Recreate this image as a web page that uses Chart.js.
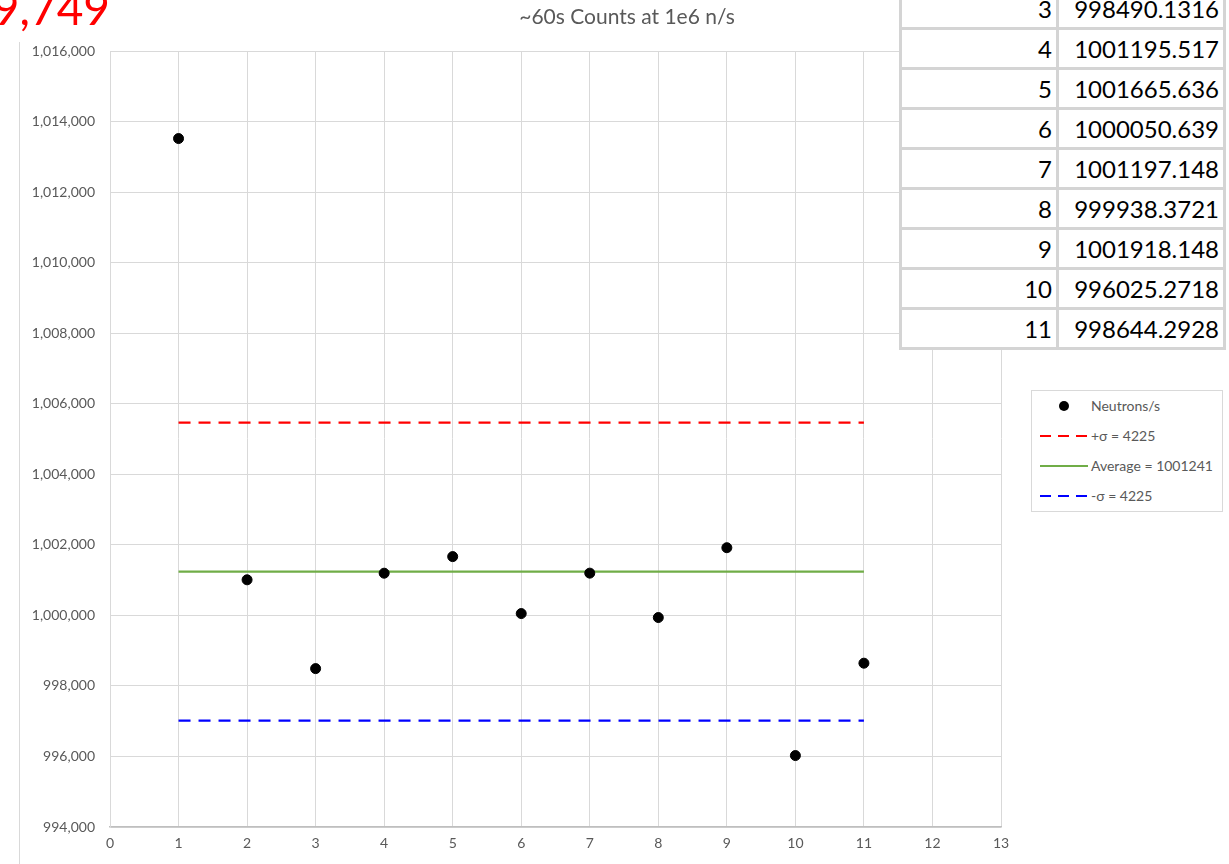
<!DOCTYPE html>
<html>
<head>
<meta charset="utf-8">
<script src="https://cdn.jsdelivr.net/npm/chart.js@4/dist/chart.umd.min.js"></script>
<style>
  html, body { margin: 0; padding: 0; background: #fff; overflow: hidden; }
  #wrap { position: relative; width: 1229px; height: 864px; font-family: Lato, "Open Sans", sans-serif; }
  #chart { position: absolute; left: 0; top: 0; }
  #frame { position: absolute; left: 19px; top: 42px; width: 0; height: 830px; border-left: 1px solid #d9d9d9; }
  #bigValue { position: absolute; right: 1119px; top: -20px; font-size: 46px; color: #ff0000; white-space: nowrap; }
  #title { position: absolute; left: 0; width: 1254px; top: 3px; text-align: center; font-size: 21px; color: #595959; }
  #table { position: absolute; left: 899px; top: -93px; border-collapse: collapse; background: #fff; font-size: 24px; color: #000; }
  #table td { border: 3px solid #d4d4d4; height: 37px; padding: 0 4px; text-align: right; line-height: 37px; }
  #table td.run { width: 146px; }
  #table td.val { width: 156px; }
  #legend { position: absolute; left: 1031px; top: 390px; width: 190px; height: 120px; border: 1px solid #d9d9d9; background: #fff; font-size: 14px; color: #595959; }
  .item { position: absolute; left: 8px; height: 14px; }
  .item .key { position: absolute; left: 0; top: 7px; width: 48px; height: 0; }
  .item .txt { position: absolute; left: 51px; top: -2px; white-space: nowrap; }
</style>
</head>
<body>
<div id="wrap">
  <canvas id="chart" width="1229" height="864"></canvas>
  <div id="frame"></div>
  <div id="bigValue">9,749</div>
  <div id="title">~60s Counts at 1e6 n/s</div>
  <table id="table"><tbody></tbody></table>
  <div id="legend"></div>
</div>
<script>
// Run numbers and measured rates (neutrons per second)
const runs = [1, 2, 3, 4, 5, 6, 7, 8, 9, 10, 11];
const neutronsPerSec = [1013518, 1001008, 998490.1316, 1001195.517, 1001665.636, 1000050.639,
                        1001197.148, 999938.3721, 1001918.148, 996025.2718, 998644.2928];

// Summary statistics shown as horizontal lines
const average = 1001241;
const sigma = 4225;
const lineRuns = [1, 11];

// Axis ranges / ticks
const xTicks = [0, 13, 1];
const yTicks = [994000, 1016000, 2000];

const grey = '#595959';
const gridColor = '#d9d9d9';

function hLine(value) {
    return lineRuns.map(r => ({ x: r, y: value }));
}

const datasets = [
    {
        label: 'Neutrons/s',
        data: runs.map((r, i) => ({ x: r, y: neutronsPerSec[i] })),
        backgroundColor: '#000',
        borderColor: '#000',
        pointRadius: 5,
        pointHoverRadius: 5,
        showLine: false
    },
    {
        label: '+σ = ' + sigma,
        data: hLine(average + sigma),
        borderColor: '#ff0000',
        borderWidth: 2.25,
        borderDash: [12, 8],
        pointRadius: 0,
        showLine: true
    },
    {
        label: 'Average = ' + average,
        data: hLine(average),
        borderColor: '#70ad47',
        borderWidth: 2.25,
        pointRadius: 0,
        showLine: true
    },
    {
        label: '-σ = ' + sigma,
        data: hLine(average - sigma),
        borderColor: '#0000ff',
        borderWidth: 2.25,
        borderDash: [12, 8],
        pointRadius: 0,
        showLine: true
    }
];

new Chart(document.getElementById('chart').getContext('2d'), {
    type: 'scatter',
    data: { datasets: datasets },
    options: {
        responsive: false,
        animation: false,
        layout: { padding: { left: 0, top: 51, right: 228, bottom: 0 } },
        plugins: {
            legend: { display: false },
            tooltip: { enabled: false }
        },
        scales: {
            x: {
                type: 'linear',
                min: xTicks[0],
                max: xTicks[1],
                ticks: { stepSize: xTicks[2], color: grey, font: { family: 'Lato', size: 14 }, padding: 8 },
                grid: { color: gridColor, drawTicks: false },
                border: { color: '#bfbfbf', width: 1.5 },
                afterFit: scale => { scale.height = 37; }
            },
            y: {
                min: yTicks[0],
                max: yTicks[1],
                ticks: {
                    stepSize: yTicks[2],
                    color: grey,
                    font: { family: 'Lato', size: 14 },
                    padding: 15,
                    callback: v => v.toLocaleString('en-US')
                },
                grid: { color: gridColor, drawTicks: false },
                border: { color: gridColor },
                afterFit: scale => { scale.width = 110; }
            }
        }
    }
});

// Data table in the corner, one row per run
const tbody = document.querySelector('#table tbody');
runs.forEach((r, i) => {
    const tr = document.createElement('tr');
    const val = String(parseFloat(neutronsPerSec[i].toPrecision(10)));
    tr.innerHTML = `<td class="run">${r}</td><td class="val">${val}</td>`;
    tbody.appendChild(tr);
});

// Legend built from the dataset styles
const legend = document.getElementById('legend');
datasets.forEach((ds, i) => {
    const item = document.createElement('div');
    item.className = 'item';
    item.style.top = (8 + i * 30) + 'px';
    const key = document.createElement('div');
    key.className = 'key';
    if (ds.showLine === false) {
        key.innerHTML = '<div style="position:absolute;left:19px;top:-5px;width:10px;height:10px;border-radius:50%;background:#000"></div>';
    } else if (ds.borderDash) {
        key.style.height = '2px';
        key.style.top = '6px';
        key.style.backgroundImage = `repeating-linear-gradient(to right, ${ds.borderColor} 0 11px, transparent 11px 18px)`;
    } else {
        key.style.borderTop = '2px solid ' + ds.borderColor;
        key.style.top = '6px';
    }
    const txt = document.createElement('div');
    txt.className = 'txt';
    txt.textContent = ds.label;
    item.appendChild(key);
    item.appendChild(txt);
    legend.appendChild(item);
});
</script>
</body>
</html>
